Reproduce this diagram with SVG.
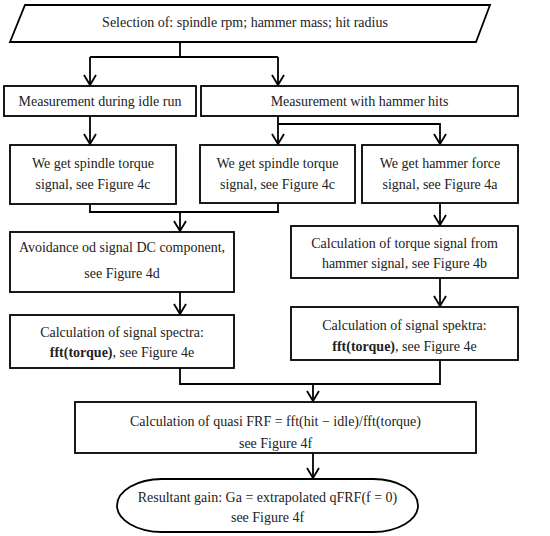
<svg xmlns="http://www.w3.org/2000/svg" width="550" height="536" viewBox="0 0 550 536">
<style>
.box{fill:#fff;stroke:#000;stroke-width:1.8}
.c{fill:none;stroke:#000;stroke-width:1.8}
text{font-family:"Liberation Serif","Times New Roman",serif;font-size:14px;fill:#222;text-anchor:middle}
.b{font-weight:bold}
</style>
<defs>
<marker id="ah" viewBox="0 0 12 14" refX="11" refY="7" markerWidth="12" markerHeight="14" markerUnits="userSpaceOnUse" orient="auto">
<path d="M1,1 L11,7 L1,13" fill="none" stroke="#000" stroke-width="1.8"/>
</marker>
</defs>
<rect width="550" height="536" fill="#fff"/>
<g id="connectors">
<path class="c" d="M180,42 V57 M90,57 H278"/>
<path class="c" d="M90,57 V85" marker-end="url(#ah)"/>
<path class="c" d="M278,57 V85" marker-end="url(#ah)"/>
<path class="c" d="M90,116 V144" marker-end="url(#ah)"/>
<path class="c" d="M278,116 V144" marker-end="url(#ah)"/>
<path class="c" d="M278,124 H440 V144" marker-end="url(#ah)"/>
<path class="c" d="M90,204 V212 H278 V203"/>
<path class="c" d="M180,212 V231" marker-end="url(#ah)"/>
<path class="c" d="M440,203 V225" marker-end="url(#ah)"/>
<path class="c" d="M180,292 V314" marker-end="url(#ah)"/>
<path class="c" d="M440,278 V306" marker-end="url(#ah)"/>
<path class="c" d="M180,368 V384 H440 V360"/>
<path class="c" d="M313,384 V401" marker-end="url(#ah)"/>
<path class="c" d="M313,453 V478" marker-end="url(#ah)"/>
</g>
<g id="n1">
<path class="box" d="M25,5 H490 L476,42 H10 Z"/>
<text x="245" y="27">Selection of: spindle rpm; hammer mass; hit radius</text>
</g>
<g id="n2">
<rect class="box" x="4" y="86" width="192" height="30"/>
<text x="100" y="106">Measurement during idle run</text>
</g>
<g id="n3">
<rect class="box" x="201" y="86" width="317" height="30"/>
<text x="359.5" y="106">Measurement with hammer hits</text>
</g>
<g id="n4">
<rect class="box" x="10" y="145" width="166" height="59"/>
<text x="93" y="168">We get spindle torque</text>
<text x="93" y="189">signal, see Figure 4c</text>
</g>
<g id="n5">
<rect class="box" x="200" y="145" width="155" height="58"/>
<text x="277.5" y="168">We get spindle torque</text>
<text x="277.5" y="189">signal, see Figure 4c</text>
</g>
<g id="n6">
<rect class="box" x="362" y="145" width="156" height="58"/>
<text x="440" y="168">We get hammer force</text>
<text x="440" y="189">signal, see Figure 4a</text>
</g>
<g id="n7">
<rect class="box" x="10" y="232" width="224" height="60"/>
<text x="122" y="252">Avoidance od signal DC component,</text>
<text x="122" y="278">see Figure 4d</text>
</g>
<g id="n8">
<rect class="box" x="291" y="226" width="227" height="52"/>
<text x="404.5" y="248">Calculation of torque signal from</text>
<text x="404.5" y="268">hammer signal, see Figure 4b</text>
</g>
<g id="n9">
<rect class="box" x="10" y="315" width="224" height="53"/>
<text x="122" y="337">Calculation of signal spectra:</text>
<text x="122" y="357"><tspan class="b">fft(torque)</tspan>, see Figure 4e</text>
</g>
<g id="n10">
<rect class="box" x="291" y="307" width="227" height="53"/>
<text x="404.5" y="330">Calculation of signal spektra:</text>
<text x="404.5" y="351"><tspan class="b">fft(torque)</tspan>, see Figure 4e</text>
</g>
<g id="n11">
<rect class="box" x="75" y="402" width="401" height="51"/>
<text x="275.5" y="426">Calculation of quasi FRF = fft(hit − idle)/fft(torque)</text>
<text x="275.5" y="448">see Figure 4f</text>
</g>
<g id="n12">
<rect class="box" x="117" y="479" width="301" height="53" rx="45" ry="26.5"/>
<text x="267.5" y="502">Resultant gain: Ga = extrapolated qFRF(f = 0)</text>
<text x="267.5" y="522">see Figure 4f</text>
</g>
</svg>
